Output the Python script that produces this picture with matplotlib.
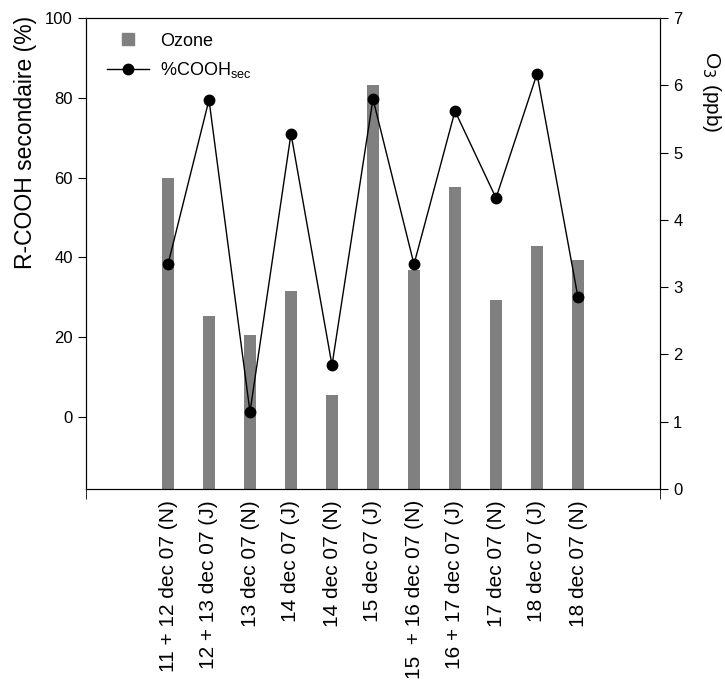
import matplotlib
matplotlib.use("Agg")
import matplotlib.pyplot as plt
from matplotlib.lines import Line2D
import numpy as np

plt.rcParams['font.family'] = ['Liberation Sans', 'DejaVu Sans']

categories = ["11 + 12 dec 07 (N)", "12 + 13 dec 07 (J)", "13 dec 07 (N)", "14 dec 07 (J)",
              "14 dec 07 (N)", "15 dec 07 (J)", "15  + 16 dec 07 (N)", "16 + 17 dec 07 (J)",
              "17 dec 07 (N)", "18 dec 07 (J)", "18 dec 07 (N)"]
ozone_ppb = [4.62, 2.57, 2.29, 2.94, 1.40, 6.00, 3.25, 4.49, 2.81, 3.61, 3.40]
cooh_sec = [38.3, 79.5, 1.3, 71.0, 13.0, 79.7, 38.3, 76.7, 54.9, 86.0, 30.0]
left_ticks = [0, 20, 40, 60, 80, 100]
right_ticks = [0, 1, 2, 3, 4, 5, 6, 7]

fig = plt.figure(figsize=(7.25, 6.81), dpi=100)
ax = fig.add_axes([86/725, 1-489/681, (660-86)/725, (489-18)/681])
ax2 = ax.twinx()

x = np.arange(len(categories))
ax2.bar(x, ozone_ppb, width=0.29, color='#808080', zorder=1)
ax.plot(x, cooh_sec, color='black', lw=1.0, marker='o', markersize=7.5, zorder=3)

ax.set_zorder(ax2.get_zorder() + 1)
ax.patch.set_visible(False)

ax.set_xlim(-2, 12)
ax.set_ylim(-18, 100)
ax2.set_ylim(0, 7)
ax.set_yticks(left_ticks)
ax2.set_yticks(right_ticks)

ax.set_xticks(x)
ax.set_xticklabels(categories, rotation=90, fontsize=15)
ax.tick_params(axis='x', which='major', length=0, pad=8)
ax.set_xticks([-2, 12], minor=True)
ax.tick_params(axis='x', which='minor', length=7, direction='out')
ax.tick_params(axis='y', labelsize=12, length=6, direction='out')
ax2.tick_params(axis='y', labelsize=12, length=6, direction='out')

ax.set_ylabel("R-COOH secondaire (%)", fontsize=16.5)
ax.yaxis.set_label_coords(-0.085, 0.735)
ax2.set_ylabel("O$_3$ (ppb)", fontsize=15, rotation=270, va='center')
ax2.yaxis.set_label_coords(1.09, 0.843)

handles = [Line2D([0], [0], marker='s', color='none', markerfacecolor='#808080',
                  markeredgecolor='#808080', markersize=8),
           Line2D([0], [0], color='black', lw=1.0, marker='o', markersize=7.5)]
ax.legend(handles, ["Ozone", "%COOH$_{\\mathregular{sec}}$"], loc='upper left',
          frameon=False, fontsize=13, bbox_to_anchor=(0.0366, 0.969), borderpad=0,
          borderaxespad=0, handlelength=2.3, handletextpad=0.65, labelspacing=0.6)

fig.savefig("out.png", dpi=100)
